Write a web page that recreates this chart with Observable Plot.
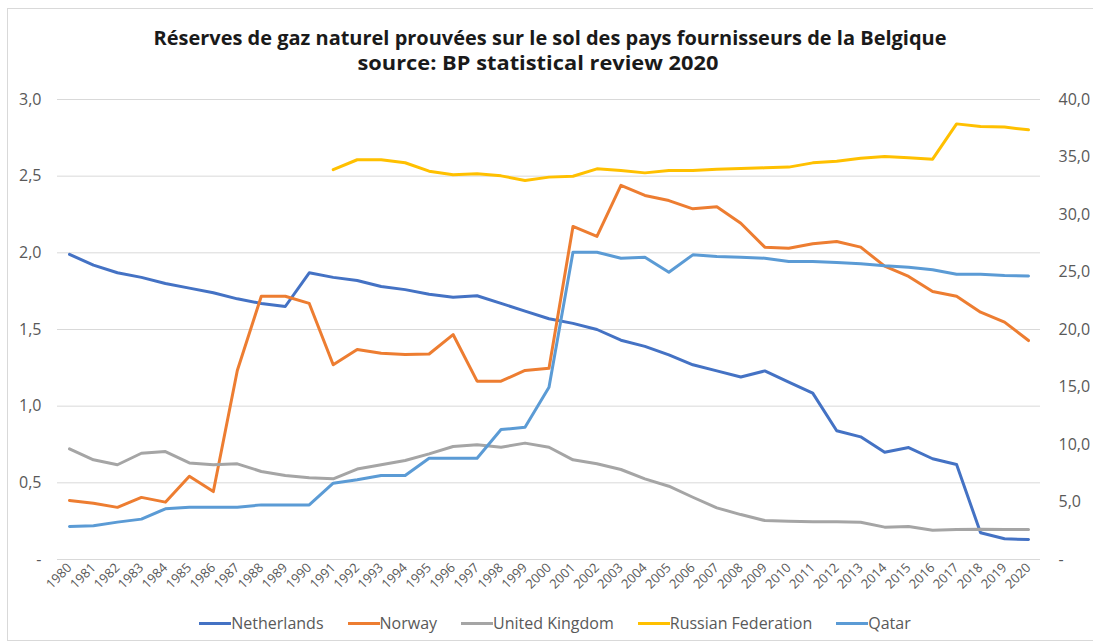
<!DOCTYPE html>
<html>
<head>
<meta charset="utf-8">
<script src="https://cdn.jsdelivr.net/npm/d3@7"></script>
<script src="https://cdn.jsdelivr.net/npm/@observablehq/plot@0.6"></script>
<style>
  html, body { margin: 0; padding: 0; background: #fff; }
  #wrap { position: relative; width: 1093px; height: 643px; overflow: hidden; font-family: "Open Sans", sans-serif; }
  #frame { position: absolute; left: 7px; top: 8px; width: 1100px; height: 633px; border: 1px solid #d9d9d9; box-sizing: border-box; }
  #title { position: absolute; left: 0; top: 0; }
  #chart { position: absolute; left: 0; top: 0; }
  #legend { position: absolute; left: 0; top: 612px; width: 1110px; display: flex; justify-content: center; gap: 24px; font-size: 16px; color: #595959; }
  .item { display: flex; align-items: center; }
  .sw { width: 32px; height: 3px; margin-right: 0px; }
</style>
</head>
<body>
<div id="wrap">
  <div id="frame"></div>
  <div id="chart"></div>
  <svg id="title" width="1093" height="90"></svg>
  <div id="legend"></div>
</div>
<script>
const years = [1980,1981,1982,1983,1984,1985,1986,1987,1988,1989,1990,1991,1992,1993,1994,1995,1996,1997,1998,1999,2000,2001,2002,2003,2004,2005,2006,2007,2008,2009,2010,2011,2012,2013,2014,2015,2016,2017,2018,2019,2020];

// left axis (tcm)
const netherlands = [1.99,1.92,1.87,1.84,1.80,1.77,1.74,1.70,1.67,1.65,1.87,1.84,1.82,1.78,1.76,1.73,1.71,1.72,1.67,1.62,1.57,1.54,1.50,1.43,1.39,1.335,1.27,1.23,1.19,1.23,1.157,1.085,0.84,0.80,0.70,0.73,0.657,0.62,0.174,0.135,0.13];
const norway = [0.385,0.367,0.34,0.405,0.374,0.543,0.443,1.233,1.717,1.717,1.67,1.27,1.37,1.345,1.337,1.34,1.467,1.163,1.163,1.233,1.248,2.172,2.107,2.44,2.374,2.341,2.287,2.30,2.193,2.037,2.03,2.059,2.074,2.037,1.913,1.846,1.748,1.717,1.613,1.548,1.428];
const unitedKingdom = [0.722,0.65,0.618,0.693,0.704,0.63,0.618,0.624,0.574,0.548,0.533,0.526,0.59,0.618,0.646,0.689,0.737,0.748,0.732,0.759,0.732,0.65,0.624,0.587,0.526,0.478,0.406,0.337,0.293,0.254,0.25,0.247,0.247,0.243,0.211,0.215,0.191,0.196,0.198,0.196,0.196];
// right axis (tcm)
const russianFederation = [null,null,null,null,null,null,null,null,null,null,null,33.9,34.76,34.76,34.5,33.77,33.45,33.54,33.36,32.96,33.25,33.33,33.97,33.83,33.62,33.83,33.83,33.94,34.0,34.06,34.12,34.49,34.64,34.9,35.04,34.93,34.81,37.88,37.65,37.6,37.36];
const qatar = [2.87,2.93,3.25,3.51,4.41,4.55,4.55,4.55,4.75,4.75,4.75,6.64,6.93,7.3,7.3,8.81,8.81,8.81,11.3,11.5,14.98,26.72,26.72,26.2,26.29,24.98,26.49,26.35,26.29,26.2,25.91,25.91,25.83,25.71,25.54,25.42,25.2,24.8,24.8,24.7,24.65];

const leftTicks = [0,0.5,1.0,1.5,2.0,2.5,3.0];
const rightTicks = [0,5,10,15,20,25,30,35,40];
const leftMax = 3, rightMax = 40;

const seriesNames = ["Netherlands","Norway","United Kingdom","Russian Federation","Qatar"];
const seriesColors = ["#4472C4","#ED7D31","#A5A5A5","#FFC000","#5B9BD5"];
const titleLines = ["Réserves de gaz naturel prouvées sur le sol des pays fournisseurs de la Belgique","source: BP statistical review 2020"];

const toLeft = v => v == null ? null : v * leftMax / rightMax;
const rows = [];
const add = (name, arr, f) => arr.forEach((v, i) => { if (v != null) rows.push({year: String(years[i]), country: name, value: f(v)}); });
add("Netherlands", netherlands, v => v);
add("Norway", norway, v => v);
add("United Kingdom", unitedKingdom, v => v);
add("Russian Federation", russianFederation, toLeft);
add("Qatar", qatar, toLeft);

const fmt = d => d === 0 ? "-" : d.toFixed(1).replace(".", ",");

const chart = Plot.plot({
  width: 1093,
  height: 643,
  marginLeft: 57,
  marginRight: 53,
  marginTop: 99,
  marginBottom: 84,
  style: {fontFamily: "Open Sans, sans-serif", background: "transparent"},
  x: {type: "point", domain: years.map(String), padding: 0.5, label: null},
  y: {domain: [0, leftMax], label: null},
  color: {domain: seriesNames, range: seriesColors},
  marks: [
    Plot.gridY(leftTicks, {stroke: "#d9d9d9", strokeOpacity: 1, strokeWidth: 1}),
    Plot.axisY(leftTicks, {anchor: "left", label: null, tickSize: 0, tickPadding: 16, tickFormat: fmt, fontSize: 16, fill: "#595959"}),
    Plot.axisY(rightTicks.map(toLeft), {anchor: "right", label: null, tickSize: 0, tickPadding: 18, textAnchor: "start", tickFormat: d => fmt(Math.round(d * rightMax / leftMax)), fontSize: 16, fill: "#595959"}),
    Plot.axisX({anchor: "bottom", label: null, tickSize: 0, tickPadding: 6, tickRotate: -45, textAnchor: "end", fontSize: 13, fill: "#595959"}),
    Plot.line(rows, {x: "year", y: "value", z: "country", stroke: "country", strokeWidth: 3, strokeLinejoin: "round", strokeLinecap: "round"})
  ]
});
document.getElementById("chart").appendChild(chart);

// title
const t = d3.select("#title");
t.append("text").attr("x", 550).attr("y", 45).attr("text-anchor", "middle")
  .attr("font-family", "Open Sans, sans-serif").attr("font-weight", 700).attr("font-size", 20)
  .attr("fill", "#1a1a1a").attr("textLength", 793).attr("lengthAdjust", "spacingAndGlyphs").text(titleLines[0]);
t.append("text").attr("x", 538).attr("y", 70).attr("text-anchor", "middle")
  .attr("font-family", "Open Sans, sans-serif").attr("font-weight", 700).attr("font-size", 20)
  .attr("fill", "#1a1a1a").attr("textLength", 361).attr("lengthAdjust", "spacingAndGlyphs").text(titleLines[1]);

// legend
const lg = d3.select("#legend");
seriesNames.forEach((n, i) => {
  const it = lg.append("div").attr("class", "item");
  it.append("div").attr("class", "sw").style("background", seriesColors[i]);
  it.append("span").text(n);
});
</script>
</body>
</html>
